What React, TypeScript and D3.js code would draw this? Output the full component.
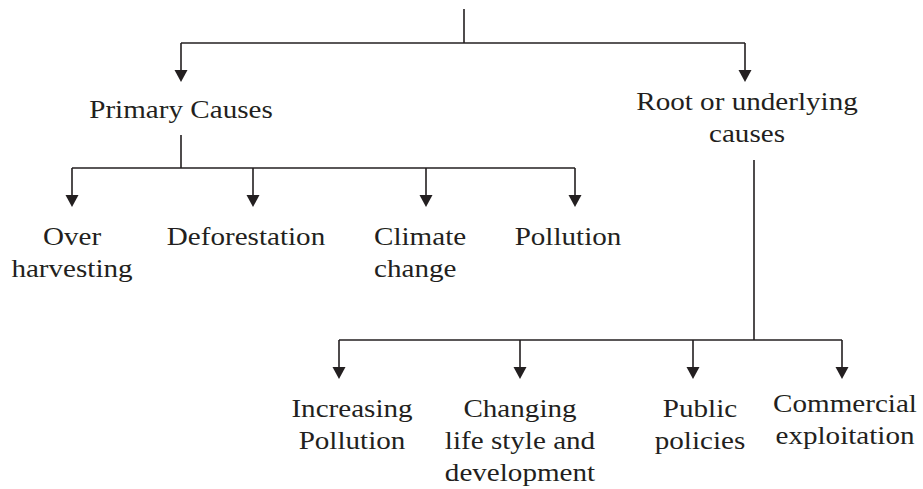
import React from 'react';
import * as d3 from 'd3';

// Tree labels
const rootBranches = ['Primary Causes', 'Root or underlying causes'];
const primaryLines = [['Primary Causes']];
const rootLines = [['Root or underlying', 'causes']];
const primaryChildren = [['Over', 'harvesting'], ['Deforestation'], ['Climate', 'change'], ['Pollution']];
const underlyingChildren = [['Increasing', 'Pollution'], ['Changing', 'life style and', 'development'], ['Public', 'policies'], ['Commercial', 'exploitation']];

// Layout (pixel positions)
const trunkX = 464;
const branchX = [181, 745];
const primaryChildX = [72, 253, 426, 575];
const underlyingChildX = [339, 520, 693, 842];
// label offsets relative to arrow x
const primaryLabelDx = [0, -7, -52, -7];
const primaryLabelAnchor = ['middle', 'middle', 'start', 'middle'];
const underlyingLabelDx = [13, 0, 7, 3];
const underlyingLabelDy = [0, 0, 0, -5];

const INK = '#231f20';
const FONT = '"Liberation Serif", "Times New Roman", serif';
const LINE_H = 32;

function Arrow({ x, y1, y2 }: { x: number; y1: number; y2: number }) {
  const head = 12;
  const half = 6.5;
  const path = d3.path();
  path.moveTo(x - half, y2 - head);
  path.lineTo(x + half, y2 - head);
  path.lineTo(x, y2);
  path.closePath();
  return (
    <g>
      <line x1={x} x2={x} y1={y1} y2={y2 - head + 1} stroke={INK} strokeWidth={1.6} />
      <path d={path.toString()} fill={INK} />
    </g>
  );
}

function Label({ x, y, lines, anchor = 'middle' }: { x: number; y: number; lines: string[]; anchor?: string }) {
  return (
    <g>
      {lines.map((t, i) => (
        <text
          key={i}
          transform={`translate(${x},${y + i * LINE_H}) scale(1.12,1)`}
          textAnchor={anchor}
          fontFamily={FONT}
          fontSize={26}
          fill={INK}
        >
          {t}
        </text>
      ))}
    </g>
  );
}

export default function App() {
  const topY = 43;
  const primaryBarY = 168;
  const underlyingBarY = 340;
  const branchTip = 82;
  const childTipP = 207;
  const childTipU = 379;

  return (
    <svg width={923} height={489} style={{ position: 'absolute', left: 0, top: 0, background: '#fff' }}>
      {/* trunk */}
      <line x1={trunkX} x2={trunkX} y1={9} y2={topY} stroke={INK} strokeWidth={1.6} />
      <line x1={d3.min(branchX)!} x2={d3.max(branchX)!} y1={topY} y2={topY} stroke={INK} strokeWidth={1.6} />
      {branchX.map((x, i) => (
        <Arrow key={rootBranches[i]} x={x} y1={topY} y2={branchTip} />
      ))}

      {/* branch labels */}
      <Label x={181} y={118} lines={primaryLines[0]} />
      <Label x={747} y={110} lines={rootLines[0]} />

      {/* primary causes */}
      <line x1={181} x2={181} y1={135} y2={primaryBarY} stroke={INK} strokeWidth={1.6} />
      <line x1={d3.min(primaryChildX)!} x2={d3.max(primaryChildX)!} y1={primaryBarY} y2={primaryBarY} stroke={INK} strokeWidth={1.6} />
      {primaryChildX.map((x, i) => (
        <g key={i}>
          <Arrow x={x} y1={primaryBarY} y2={childTipP} />
          <Label x={x + primaryLabelDx[i]} y={childTipP + 38} lines={primaryChildren[i]} anchor={primaryLabelAnchor[i]} />
        </g>
      ))}

      {/* underlying causes */}
      <line x1={754} x2={754} y1={160} y2={underlyingBarY} stroke={INK} strokeWidth={1.6} />
      <line x1={d3.min(underlyingChildX)!} x2={d3.max(underlyingChildX)!} y1={underlyingBarY} y2={underlyingBarY} stroke={INK} strokeWidth={1.6} />
      {underlyingChildX.map((x, i) => (
        <g key={i}>
          <Arrow x={x} y1={underlyingBarY} y2={childTipU} />
          <Label x={x + underlyingLabelDx[i]} y={childTipU + 38 + underlyingLabelDy[i]} lines={underlyingChildren[i]} />
        </g>
      ))}
    </svg>
  );
}
